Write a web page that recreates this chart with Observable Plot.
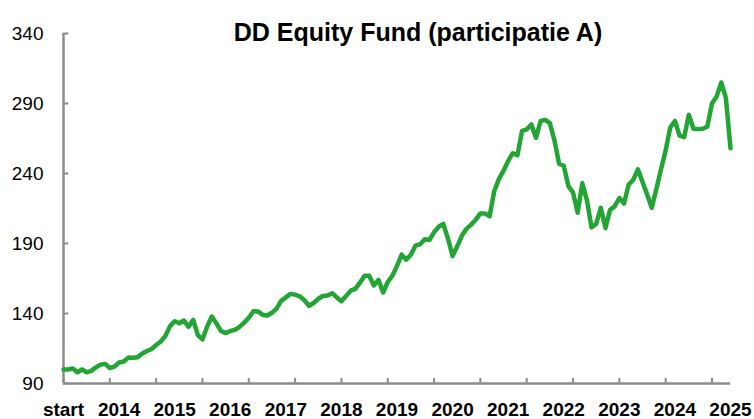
<!DOCTYPE html>
<html>
<head>
<meta charset="utf-8">
<script src="https://cdn.jsdelivr.net/npm/d3@7"></script>
<script src="https://cdn.jsdelivr.net/npm/@observablehq/plot@0.6"></script>
<style>
  html, body { margin: 0; padding: 0; background: #fff; }
  #chart svg { display: block; overflow: visible; }
</style>
</head>
<body>
<div id="chart"></div>
<script>
const title = "DD Equity Fund (participatie A)";

// Monthly NAV index (start = 100), 145 observations
const values = [
  100, 100, 100.7, 98, 100, 98, 99, 101.5, 103.5, 104,
  101, 102, 105, 105.7, 108.5, 108.4, 108.8, 111.5, 113.2, 114.5,
  117.5, 120, 124, 131, 134.5, 133, 135, 130.5, 135.5, 124.5,
  121.5, 130.5, 137.8, 133, 127.5, 126, 127.5, 128.3, 130.5, 133.5,
  137, 141.6, 141.5, 139, 138.6, 140.5, 143.5, 149, 151.5, 154,
  153.5, 152.3, 149.5, 145.5, 147.5, 150.5, 152.5, 152.9, 154.5, 151.5,
  148.8, 152.5, 156.3, 157.6, 162, 167, 167, 160, 164, 155,
  162.5, 167, 174, 182, 178.5, 182, 188.5, 189.5, 193, 192.5,
  198, 202, 204, 193.5, 181, 188, 195.5, 200.5, 203.5, 207,
  211.5, 211.5, 209.5, 227.5, 236, 242, 249, 254.5, 253, 270.5,
  271.5, 275, 265.5, 277.5, 278.3, 276, 263.5, 247, 245.5, 231,
  226.5, 212, 233, 221, 201.5, 204, 215.5, 201, 214, 216.5,
  222.5, 218.5, 232, 235.5, 243, 234, 225, 215.5, 229, 243,
  256.5, 273, 277.5, 267, 266, 282, 272, 271.7, 272, 273.5,
  290, 295, 305, 294, 258
];

const xLabels = ["start", "2014", "2015", "2016", "2017", "2018", "2019", "2020", "2021", "2022", "2023", "2024", "2025"];
const xLabelIndex = xLabels.map((_, i) => i * 12);
const xTickIndex = d3.range(0, 141, 10);
const yTicks = [90, 140, 190, 240, 290, 340];

const data = values.map((v, i) => ({i, v}));

const axisColor = "#8c8c8c";
const lineColor = "#22a535";
const font = "'Liberation Sans', Arial, sans-serif";

const chart = Plot.plot({
  width: 754,
  height: 419,
  marginLeft: 63,
  marginRight: 24,
  marginTop: 33,
  marginBottom: 36,
  style: {fontFamily: font, color: "#000", background: "#fff"},
  x: {domain: [0, 144]},
  y: {domain: [90, 340]},
  marks: [
    Plot.axisY({ticks: yTicks, tickSize: 0, tickPadding: 20, fontSize: 19, label: null, fill: "#000"}),
    Plot.axisX({ticks: xLabelIndex, tickSize: 0, tickPadding: 19, fontSize: 19, fontWeight: "bold",
      tickFormat: d => xLabels[d / 12], label: null, fill: "#000"}),
    Plot.ruleY(yTicks, {x1: 0, x2: 1.15, stroke: axisColor, strokeWidth: 2}),
    Plot.ruleX(xTickIndex, {y1: 90, y2: 93.6, stroke: axisColor, strokeWidth: 2}),
    Plot.ruleX([0], {stroke: axisColor, strokeWidth: 2.5}),
    Plot.ruleY([90], {stroke: axisColor, strokeWidth: 2.5}),
    Plot.line(data, {x: "i", y: "v", stroke: lineColor, strokeWidth: 4.5, strokeLinejoin: "round", strokeLinecap: "round"}),
    Plot.text([title], {frameAnchor: "top", dx: 21, dy: -10, fontSize: 25, fontWeight: "bold", fill: "#000"})
  ]
});

document.getElementById("chart").appendChild(chart);
</script>
</body>
</html>
